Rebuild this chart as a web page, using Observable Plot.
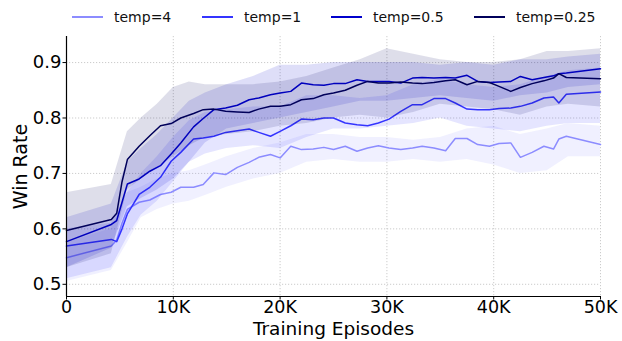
<!DOCTYPE html>
<html>
<head>
<meta charset="utf-8">
<script src="https://cdn.jsdelivr.net/npm/d3@7"></script>
<script src="https://cdn.jsdelivr.net/npm/@observablehq/plot@0.6"></script>
<style>
  html, body { margin: 0; padding: 0; background: white; }
  body { width: 622px; height: 341px; overflow: hidden; font-family: "DejaVu Sans", sans-serif; }
  #legend { position: relative; width: 622px; height: 30px; font-size: 14px; color: #111; }
  #legend .swatch { position: absolute; top: 16px; width: 31px; height: 2px; }
  #legend .name { position: absolute; top: 8px; line-height: 18px; white-space: nowrap; }
  #chart svg { display: block; }
</style>
</head>
<body>
<div id="legend"></div>
<div id="chart"></div>
<script>
// Training episodes (thousands) at which the win rate was logged
const episodesK = [0, 4.2, 4.7, 5.2, 5.7, 6.8, 7.8, 8.8, 9.8, 10.7, 11.9, 12.8, 13.8, 14.9, 16.0, 17.1, 18.0, 19.1, 20.0, 21.0, 22.0, 23.1, 24.1, 25.0, 26.1, 27.2, 28.2, 29.2, 30.2, 31.3, 32.4, 33.3, 34.4, 35.5, 36.4, 37.5, 38.5, 39.6, 40.5, 41.6, 42.5, 43.6, 44.7, 45.6, 46.1, 46.8, 50.0];

// Mean win rate per temperature
const winTemp4 = [0.548, 0.569, 0.58, 0.61, 0.635, 0.648, 0.652, 0.662, 0.666, 0.675, 0.675, 0.68, 0.701, 0.698, 0.711, 0.72, 0.729, 0.734, 0.728, 0.749, 0.743, 0.744, 0.747, 0.743, 0.749, 0.74, 0.746, 0.75, 0.746, 0.743, 0.746, 0.749, 0.746, 0.741, 0.763, 0.763, 0.752, 0.749, 0.754, 0.755, 0.729, 0.738, 0.749, 0.744, 0.762, 0.767, 0.752];
const winTemp1 = [0.569, 0.581, 0.577, 0.60, 0.627, 0.662, 0.675, 0.693, 0.722, 0.738, 0.762, 0.764, 0.767, 0.774, 0.777, 0.78, 0.774, 0.767, 0.776, 0.786, 0.798, 0.797, 0.80, 0.80, 0.791, 0.788, 0.786, 0.791, 0.798, 0.812, 0.824, 0.824, 0.835, 0.835, 0.827, 0.816, 0.815, 0.815, 0.817, 0.818, 0.821, 0.827, 0.836, 0.838, 0.827, 0.843, 0.847];
const winTemp05 = [0.577, 0.608, 0.615, 0.648, 0.681, 0.69, 0.704, 0.714, 0.735, 0.755, 0.784, 0.799, 0.815, 0.818, 0.823, 0.833, 0.836, 0.842, 0.845, 0.848, 0.863, 0.86, 0.859, 0.862, 0.862, 0.869, 0.866, 0.866, 0.866, 0.863, 0.872, 0.873, 0.872, 0.873, 0.872, 0.877, 0.866, 0.864, 0.865, 0.866, 0.875, 0.869, 0.873, 0.876, 0.880, 0.881, 0.889];
const winTemp025 = [0.597, 0.617, 0.628, 0.685, 0.725, 0.749, 0.768, 0.786, 0.79, 0.80, 0.808, 0.815, 0.816, 0.812, 0.811, 0.81, 0.816, 0.821, 0.821, 0.824, 0.833, 0.835, 0.842, 0.845, 0.85, 0.859, 0.866, 0.863, 0.863, 0.865, 0.863, 0.862, 0.864, 0.867, 0.869, 0.86, 0.866, 0.864, 0.857, 0.848, 0.855, 0.862, 0.867, 0.872, 0.880, 0.873, 0.871];

// Spread across runs (lower / upper edge of the shaded band)
const bandK = [0, 4.2, 5.7, 7, 8.5, 10, 11.5, 13, 15, 17.5, 20, 22.5, 25, 27.5, 30, 32.5, 35, 37.5, 40, 42.5, 45, 47, 50];
const lowTemp4 = [0.505, 0.525, 0.575, 0.62, 0.635, 0.645, 0.65, 0.66, 0.675, 0.69, 0.70, 0.72, 0.725, 0.72, 0.72, 0.725, 0.72, 0.725, 0.715, 0.70, 0.705, 0.73, 0.73];
const highTemp4 = [0.575, 0.60, 0.665, 0.675, 0.69, 0.70, 0.705, 0.715, 0.73, 0.745, 0.755, 0.77, 0.77, 0.765, 0.765, 0.76, 0.765, 0.78, 0.785, 0.77, 0.78, 0.79, 0.785];
const lowTemp1 = [0.51, 0.53, 0.585, 0.625, 0.65, 0.685, 0.72, 0.735, 0.745, 0.75, 0.745, 0.765, 0.78, 0.78, 0.785, 0.79, 0.80, 0.785, 0.78, 0.775, 0.785, 0.79, 0.79];
const highTemp1 = [0.60, 0.61, 0.665, 0.70, 0.73, 0.765, 0.795, 0.81, 0.815, 0.82, 0.82, 0.84, 0.84, 0.835, 0.84, 0.86, 0.87, 0.86, 0.855, 0.86, 0.875, 0.885, 0.89];
const lowTemp05 = [0.53, 0.565, 0.64, 0.655, 0.67, 0.69, 0.72, 0.755, 0.78, 0.79, 0.80, 0.81, 0.82, 0.83, 0.83, 0.835, 0.84, 0.835, 0.83, 0.84, 0.845, 0.855, 0.86];
const highTemp05 = [0.62, 0.645, 0.72, 0.745, 0.77, 0.80, 0.83, 0.845, 0.86, 0.875, 0.895, 0.895, 0.9, 0.9, 0.9, 0.9, 0.895, 0.9, 0.895, 0.905, 0.905, 0.91, 0.915];
const lowTemp025 = [0.53, 0.555, 0.67, 0.69, 0.71, 0.73, 0.75, 0.765, 0.77, 0.775, 0.785, 0.79, 0.80, 0.805, 0.80, 0.81, 0.825, 0.82, 0.815, 0.805, 0.82, 0.825, 0.82];
const highTemp025 = [0.665, 0.68, 0.775, 0.80, 0.825, 0.855, 0.865, 0.86, 0.86, 0.86, 0.865, 0.875, 0.89, 0.905, 0.925, 0.915, 0.905, 0.9, 0.9, 0.905, 0.92, 0.92, 0.925];

// Series names, colours and axis ticks
const seriesNames = ["temp=4", "temp=1", "temp=0.5", "temp=0.25"];
const seriesColors = ["#8c8cff", "#3434ff", "#0000cc", "#00005a"];
const xTicks = [0, 10, 20, 30, 40, 50];
const xTickLabels = ["0", "10K", "20K", "30K", "40K", "50K"];
const yTicks = [0.5, 0.6, 0.7, 0.8, 0.9];
const yTickLabels = ["0.5", "0.6", "0.7", "0.8", "0.9"];

const means = [winTemp4, winTemp1, winTemp05, winTemp025];
const lows = [lowTemp4, lowTemp1, lowTemp05, lowTemp025];
const highs = [highTemp4, highTemp1, highTemp05, highTemp025];

const yMin = 0.478, yMax = 0.947;

// Legend row above the plot
const legendX = [72, 202, 331, 474];
const legend = document.getElementById("legend");
seriesNames.forEach((name, i) => {
  const sw = document.createElement("div");
  sw.className = "swatch";
  sw.style.left = legendX[i] + "px";
  sw.style.background = seriesColors[i];
  legend.appendChild(sw);
  const t = document.createElement("div");
  t.className = "name";
  t.style.left = (legendX[i] + 42) + "px";
  t.textContent = name;
  legend.appendChild(t);
});

// Each series: shaded spread first, then its mean line
const seriesMarks = [];
seriesNames.forEach((name, i) => {
  const band = bandK.map((k, j) => ({k, lo: lows[i][j], hi: highs[i][j]}));
  const line = episodesK.map((k, j) => ({k, v: means[i][j]}));
  seriesMarks.push(Plot.areaY(band, {x: "k", y1: "lo", y2: "hi", fill: seriesColors[i], fillOpacity: 0.13}));
  seriesMarks.push(Plot.lineY(line, {x: "k", y: "v", stroke: seriesColors[i], strokeWidth: 1.5}));
});

const gridStyle = {stroke: "#b8b8b8", strokeOpacity: 0.9, strokeWidth: 0.8, strokeDasharray: "1.2,1.8"};

const chart = Plot.plot({
  width: 622,
  height: 311,
  marginLeft: 66,
  marginRight: 22,
  marginTop: 6,
  marginBottom: 45,
  style: {fontFamily: "DejaVu Sans, sans-serif", background: "white", color: "black"},
  x: {domain: [0, 50]},
  y: {domain: [yMin, yMax]},
  marks: [
    Plot.gridX(xTicks, gridStyle),
    Plot.gridY(yTicks, gridStyle),
    ...seriesMarks,
    Plot.ruleX([0], {stroke: "black", strokeWidth: 1.2}),
    Plot.ruleY([yMin], {stroke: "black", strokeWidth: 1.2}),
    Plot.axisX(xTicks, {
      tickFormat: d => xTickLabels[xTicks.indexOf(d)],
      fontSize: 17.5, tickSize: 3.5, tickPadding: 1, label: null
    }),
    Plot.axisY(yTicks, {
      tickFormat: d => yTickLabels[yTicks.indexOf(d)],
      fontSize: 18, tickSize: 3.5, tickPadding: 1.5, label: null
    }),
    Plot.text(["Training Episodes"], {frameAnchor: "bottom", lineAnchor: "middle", textAnchor: "middle", dy: 33, fontSize: 18.5, fill: "black"}),
    Plot.text(["Win Rate"], {frameAnchor: "left", lineAnchor: "middle", textAnchor: "middle", dx: -46, rotate: -90, fontSize: 19, fill: "black"})
  ]
});
document.getElementById("chart").appendChild(chart);
</script>
</body>
</html>
